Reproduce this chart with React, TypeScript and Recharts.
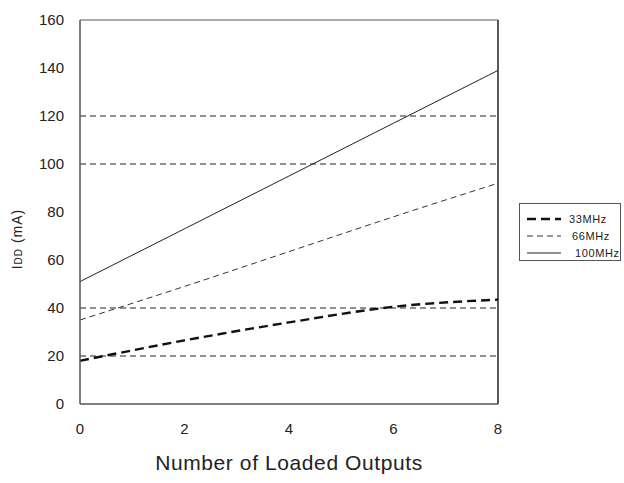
import React from 'react';
import { LineChart, Line, XAxis, YAxis, ReferenceLine, Legend } from 'recharts';

// Data
const loads = [0, 2, 4, 6, 8];
const mhz33 = [18, 26.5, 34, 40.5, 43.5];
const mhz66 = [35, 49, 63.5, 78, 92];
const mhz100 = [51, 73, 95, 117, 139];
const xTicks = [0, 2, 4, 6, 8];
const yTicks = [0, 20, 40, 60, 80, 100, 120, 140, 160];
const gridValues = [20, 40, 100, 120];
const seriesNames = ['33MHz', '66MHz', '100MHz'];
const xTitle = 'Number of Loaded Outputs';

const data = loads.map((x, i) => ({ x, s33: mhz33[i], s66: mhz66[i], s100: mhz100[i] }));

const seriesStyle = [
  { key: 's33', stroke: '#111', width: 2.4, dash: '9 5' },
  { key: 's66', stroke: '#333', width: 1, dash: '6 4' },
  { key: 's100', stroke: '#222', width: 1, dash: undefined as string | undefined },
];

const FONT = '"Liberation Sans", Arial, Helvetica, sans-serif';

const LegendBox = () => (
  <div
    style={{
      border: '1px solid #555',
      width: 102,
      height: 58,
      boxSizing: 'border-box',
      padding: '6px 0 0 7px',
      fontFamily: FONT,
      fontSize: 11,
      color: '#222',
      background: '#fff',
      textAlign: 'left',
    }}
  >
    {seriesNames.map((name, i) => {
      const s = seriesStyle[i];
      return (
        <div key={name} style={{ display: 'flex', alignItems: 'center', height: 17 }}>
          <svg width={36} height={8} style={{ display: 'block' }}>
            <line
              x1={0}
              y1={4}
              x2={34}
              y2={4}
              stroke={s.stroke}
              strokeWidth={s.width}
              strokeDasharray={s.dash}
            />
          </svg>
          <span style={{ marginLeft: 6 + i * 3, letterSpacing: 0.6 }}>{name}</span>
        </div>
      );
    })}
  </div>
);

const YTitle = () => {
  const cx = 22;
  const cy = 239;
  return (
    <text
      x={cx}
      y={cy}
      transform={`rotate(-90 ${cx} ${cy})`}
      textAnchor="middle"
      fontFamily={FONT}
      fontSize={14}
      fill="#222"
      letterSpacing={1}
    >
      <tspan>I</tspan>
      <tspan fontSize={10}>DD</tspan>
      <tspan> (mA)</tspan>
    </text>
  );
};

const XTitle = (props: any) => {
  const vb = props.viewBox || { x: 80, y: 404, width: 418, height: 79 };
  return (
    <text
      x={vb.x + vb.width / 2}
      y={vb.y + 66}
      textAnchor="middle"
      fontFamily={FONT}
      fontSize={21}
      fill="#222"
      letterSpacing={0.6}
    >
      {xTitle}
    </text>
  );
};

export default function App() {
  return (
    <div style={{ position: 'absolute', left: 0, top: 0, background: '#fff' }}>
      <LineChart
        width={624}
        height={483}
        data={data}
        margin={{ top: 20, right: 24, bottom: 0, left: 0 }}
      >
        <XAxis
          dataKey="x"
          type="number"
          domain={[0, 8]}
          ticks={xTicks}
          tickLine={false}
          tickSize={0}
          tickMargin={19}
          height={79}
          axisLine={{ stroke: '#555', strokeWidth: 1.5 }}
          tick={{ fontSize: 15, fill: '#222', fontFamily: FONT }}
          label={<XTitle />}
        />
        <YAxis
          type="number"
          domain={[0, 160]}
          ticks={yTicks}
          width={80}
          tickLine={false}
          tickSize={0}
          tickMargin={16}
          axisLine={{ stroke: '#555', strokeWidth: 1.5 }}
          tick={{ fontSize: 15, fill: '#222', fontFamily: FONT }}
          label={<YTitle />}
        />
        {gridValues.map((v) => (
          <ReferenceLine key={v} y={v} stroke="#222" strokeWidth={1.2} strokeDasharray="6 4" />
        ))}
        <ReferenceLine y={160} stroke="#555" strokeWidth={1.2} />
        <ReferenceLine x={8} stroke="#222" strokeWidth={1.5} />
        {seriesStyle.map((s, i) => (
          <Line
            key={s.key}
            dataKey={s.key}
            name={seriesNames[i]}
            type="monotone"
            stroke={s.stroke}
            strokeWidth={s.width}
            strokeDasharray={s.dash}
            dot={false}
            activeDot={false}
            isAnimationActive={false}
          />
        ))}
        <Legend
          layout="vertical"
          align="right"
          verticalAlign="middle"
          width={102}
          content={<LegendBox />}
          wrapperStyle={{ position: 'absolute', left: 519, top: 203, right: 'auto', width: 102 }}
        />
      </LineChart>
    </div>
  );
}
